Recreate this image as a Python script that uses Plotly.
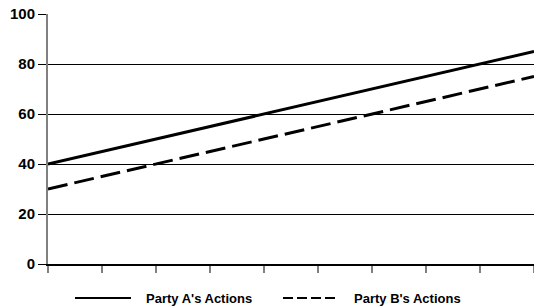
import plotly.graph_objects as go

periods = list(range(10))
party_a = [40, 45, 50, 55, 60, 65, 70, 75, 80, 85]
party_b = [30, 35, 40, 45, 50, 55, 60, 65, 70, 75]
y_ticks = [0, 20, 40, 60, 80, 100]
series_names = ["Party A's Actions", "Party B's Actions"]

FONT = "Liberation Sans, Arial, sans-serif"

fig = go.Figure()
fig.add_trace(go.Scatter(x=periods, y=party_a, mode="lines", name=series_names[0],
                         line=dict(color="black", width=3), showlegend=False))
fig.add_trace(go.Scatter(x=periods, y=party_b, mode="lines", name=series_names[1],
                         line=dict(color="black", width=3, dash="20px,7px"), showlegend=False))

# manual legend below the plot
W, L, T, H = 534, 48, 14, 250
def px(x):
    return (x - L) / (W - L)
def py(y):
    return (T + H - y) / H

ly = py(298)
fig.add_shape(type="line", xref="paper", yref="paper", x0=px(75), x1=px(131), y0=ly, y1=ly,
              line=dict(color="black", width=2))
fig.add_shape(type="line", xref="paper", yref="paper", x0=px(283), x1=px(336), y0=ly, y1=ly,
              line=dict(color="black", width=2, dash="10px,4px"))
fig.add_annotation(xref="paper", yref="paper", x=px(144), y=ly, text=series_names[0],
                   showarrow=False, xanchor="left", yanchor="middle",
                   font=dict(family=FONT, size=13, color="black", weight="bold"))
fig.add_annotation(xref="paper", yref="paper", x=px(352), y=ly, text=series_names[1],
                   showarrow=False, xanchor="left", yanchor="middle",
                   font=dict(family=FONT, size=13, color="black", weight="bold"))

fig.update_layout(
    width=534, height=307,
    margin=dict(l=L, r=0, t=T, b=307 - T - H),
    paper_bgcolor="white", plot_bgcolor="white",
    font=dict(family=FONT, color="black"),
    xaxis=dict(range=[0, 9], tickvals=periods, showticklabels=False, showgrid=False,
               zeroline=False, showline=True, linecolor="black", linewidth=1.5,
               ticks="outside", ticklen=7, tickcolor="#808080", tickwidth=1.5),
    yaxis=dict(range=[0, 100], tickvals=y_ticks, showgrid=True, gridcolor="black", gridwidth=1,
               zeroline=False, showline=True, linecolor="#808080", linewidth=2,
               ticks="outside", ticklen=8, tickcolor="black", tickwidth=1,
               tickfont=dict(family=FONT, size=15, color="black", weight="bold")),
)

fig.write_html("out.html", config={"displayModeBar": False},
               post_script="document.body.style.margin='0';document.body.style.overflow='hidden';")
